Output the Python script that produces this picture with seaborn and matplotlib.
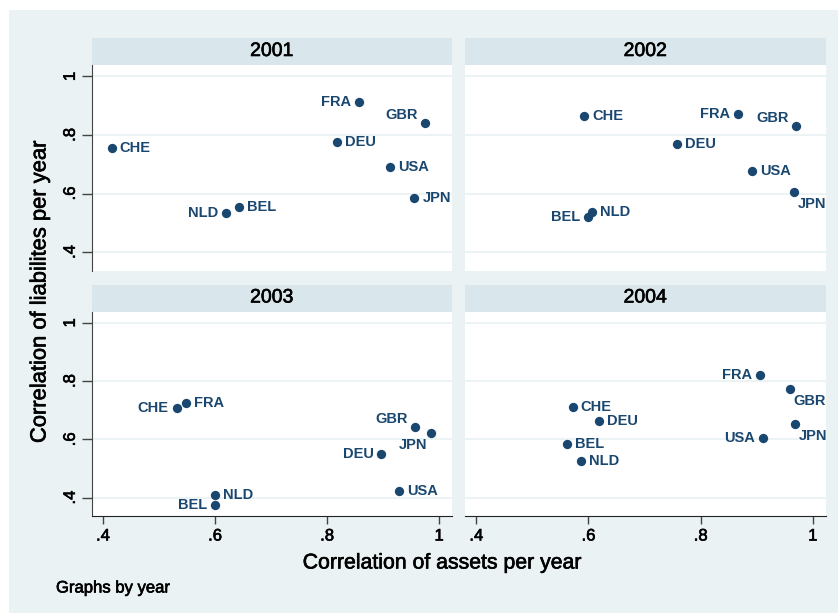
import pandas as pd
import numpy as np
import matplotlib
matplotlib.use("Agg")
import matplotlib.pyplot as plt
import matplotlib.patheffects as pe
from matplotlib.patches import Rectangle
import seaborn as sns


countries = ['BEL', 'CHE', 'DEU', 'FRA', 'GBR', 'JPN', 'NLD', 'USA']
years = [2001, 2002, 2003, 2004]

assets_2001 = [0.643, 0.416, 0.818, 0.857, 0.974, 0.956, 0.620, 0.912]
liab_2001 = [0.554, 0.755, 0.777, 0.911, 0.840, 0.585, 0.532, 0.689]

assets_2002 = [0.599, 0.593, 0.758, 0.866, 0.970, 0.966, 0.607, 0.891]
liab_2002 = [0.520, 0.866, 0.770, 0.871, 0.832, 0.605, 0.537, 0.678]

assets_2003 = [0.600, 0.532, 0.897, 0.549, 0.957, 0.986, 0.600, 0.928]
liab_2003 = [0.375, 0.708, 0.549, 0.724, 0.643, 0.622, 0.409, 0.423]

assets_2004 = [0.562, 0.572, 0.618, 0.906, 0.959, 0.968, 0.587, 0.912]
liab_2004 = [0.584, 0.711, 0.664, 0.821, 0.773, 0.652, 0.527, 0.606]

x_ticks = [0.4, 0.6, 0.8, 1.0]
tick_labels = ['.4', '.6', '.8', '1']

# marker label clock positions (stata style mlabvposition)
label_pos = {
    (2001, 'FRA'): 9, (2001, 'GBR'): 10, (2001, 'NLD'): 9,
    (2002, 'FRA'): 9, (2002, 'GBR'): 10, (2002, 'BEL'): 9, (2002, 'JPN'): 4,
    (2003, 'CHE'): 9, (2003, 'GBR'): 10, (2003, 'JPN'): 7, (2003, 'DEU'): 9,
    (2003, 'BEL'): 9,
    (2004, 'FRA'): 9, (2004, 'GBR'): 4, (2004, 'JPN'): 4, (2004, 'USA'): 9,
}
offsets = {
    3: (8, 0, 'left'),
    9: (-8, 0, 'right'),
    10: (-7, 8, 'right'),
    4: (4, -12, 'left'),
    7: (-4, -12, 'right'),
}

frames = []
for yr, a, l in zip(years,
                    [assets_2001, assets_2002, assets_2003, assets_2004],
                    [liab_2001, liab_2002, liab_2003, liab_2004]):
    frames.append(pd.DataFrame({'year': yr, 'country': countries,
                                'assets': a, 'liabilities': l}))
df = pd.concat(frames, ignore_index=True)

BG = '#EAF2F3'
STRIP = '#D9E6EB'
NAVY = '#1A476F'

sns.set_style('white')
plt.rcParams['font.family'] = ['Liberation Sans', 'DejaVu Sans']
plt.rcParams['text.color'] = 'black'
plt.rcParams['xtick.color'] = 'black'
plt.rcParams['ytick.color'] = 'black'

# slight stroke so the text looks as heavy as the stata export
heavy = [pe.withStroke(linewidth=0.45, foreground='black')]
heavy_navy = [pe.withStroke(linewidth=0.4, foreground=NAVY)]

W, H = 838, 615
g = sns.FacetGrid(df, col='year', col_wrap=2, height=3, aspect=1.2,
                  sharex=True, sharey=True, despine=False)
g.map_dataframe(sns.scatterplot, x='assets', y='liabilities',
                color=NAVY, s=45, edgecolor=NAVY, linewidth=0)
fig = g.figure
fig.set_size_inches(W / 100, H / 100)
fig.set_dpi(100)
fig.patch.set_facecolor('white')
fig.patches.append(Rectangle((9 / W, 2 / H), 1 - 9 / W, 1 - 12 / H,
                             transform=fig.transFigure, facecolor=BG,
                             edgecolor='none', zorder=-10))

# panel boxes in pixels: left, right, top, bottom
boxes = {
    2001: (91.7, 452, 65, 270.5),
    2002: (465, 825.7, 65, 270.5),
    2003: (91.7, 452, 311.5, 516),
    2004: (465, 825.7, 311.5, 516),
}

for yr, ax in zip(years, g.axes.flat):
    l, r, t, b = boxes[yr]
    ax.set_position([l / W, 1 - b / H, (r - l) / W, (b - t) / H])
    ax.set_facecolor('white')
    ax.set_xlim(0.38, 1.023)
    ax.set_ylim(0.337, 1.039)
    ax.set_title('')
    ax.set_xlabel('')
    ax.set_ylabel('')
    ax.set_yticks(x_ticks)
    ax.set_xticks(x_ticks)
    ax.grid(axis='y', color=BG, linewidth=1.3)
    ax.grid(axis='x', visible=False)
    ax.set_axisbelow(True)
    for s in ['top', 'right']:
        ax.spines[s].set_visible(False)
    left_col = yr in (2001, 2003)
    bottom_row = yr in (2003, 2004)
    ax.spines['left'].set_visible(left_col)
    ax.spines['bottom'].set_visible(bottom_row)
    ax.spines['left'].set_color('#444444')
    ax.spines['bottom'].set_color('#222222')
    ax.tick_params(axis='y', left=left_col, labelleft=left_col, length=7,
                   width=1, color='#444444', direction='out', pad=3)
    ax.tick_params(axis='x', bottom=bottom_row, labelbottom=bottom_row,
                   length=6, width=1, color='#444444', direction='out', pad=3)
    if left_col:
        ax.set_yticklabels(tick_labels, rotation=90, va='center', fontsize=12,
                           path_effects=heavy)
    if bottom_row:
        ax.set_xticklabels(tick_labels, fontsize=12, path_effects=heavy)

    # strip
    fig.patches.append(Rectangle((l / W, 1 - t / H), (r - l) / W, 27 / H,
                                 transform=fig.transFigure, facecolor=STRIP,
                                 edgecolor='none', zorder=-5))
    fig.text((l + r) / 2 / W, 1 - (t - 13.5) / H, str(yr), ha='center',
             va='center', fontsize=14, path_effects=heavy)

    sub = df[df['year'] == yr]
    for _, row in sub.iterrows():
        pos = label_pos.get((yr, row['country']), 3)
        dx, dy, ha = offsets[pos]
        ax.annotate(row['country'], (row['assets'], row['liabilities']),
                    xytext=(dx, dy), textcoords='offset pixels', ha=ha,
                    va='center', color=NAVY, fontsize=10.5, fontweight='bold')

fig.text(442 / W, 1 - 563 / H, 'Correlation of assets per year',
         ha='center', va='center', fontsize=15.3, path_effects=heavy)
fig.text(40 / W, 1 - 292 / H, 'Correlation of liabilites per year',
         ha='center', va='center', rotation=90, fontsize=15.8,
         path_effects=heavy)
fig.text(56 / W, 1 - 588 / H, 'Graphs by year', ha='left', va='center',
         fontsize=12, path_effects=heavy)

fig.savefig('out.png', dpi=100, facecolor=fig.get_facecolor())
